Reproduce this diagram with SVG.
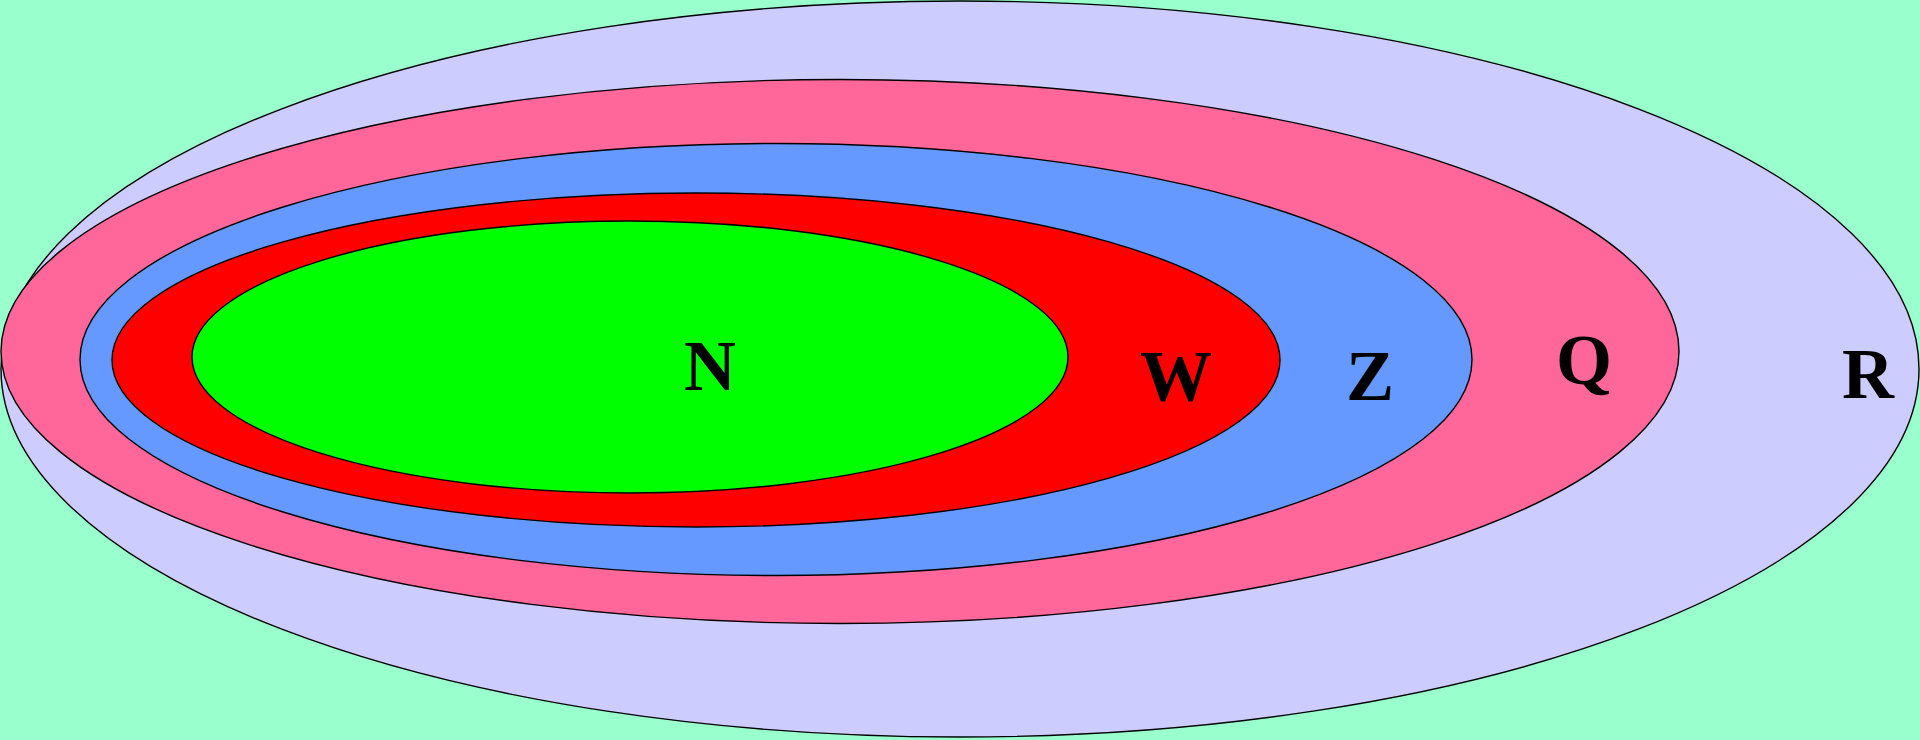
<svg xmlns="http://www.w3.org/2000/svg" width="1920" height="740" viewBox="0 0 1920 740">
<style>
.s{stroke:#000;stroke-width:1.4}
.t{font-family:"Liberation Serif","Times New Roman",Times,serif;font-weight:bold;font-size:72px;text-anchor:middle;fill:#000}
</style>
<rect width="1920" height="740" fill="#99FFCC"/>
<g id="R"><ellipse class="s" cx="960" cy="369" rx="959" ry="368" fill="#CCCCFF"/><text class="t" x="1868" y="398">R</text></g>
<g id="Q"><ellipse class="s" cx="840" cy="351.5" rx="839" ry="272" fill="#FF6699"/><text class="t" x="1584" y="384">Q</text></g>
<g id="Z"><ellipse class="s" cx="776" cy="359.5" rx="696" ry="216" fill="#6699FF"/><text class="t" x="1370" y="400">Z</text></g>
<g id="W"><ellipse class="s" cx="696" cy="360" rx="584" ry="167" fill="#FF0000"/><text class="t" x="1176" y="400">W</text></g>
<g id="N"><ellipse class="s" cx="630" cy="357" rx="438" ry="136" fill="#00FF00"/><text class="t" x="710" y="390">N</text></g>
<g id="connectors"/>
</svg>
